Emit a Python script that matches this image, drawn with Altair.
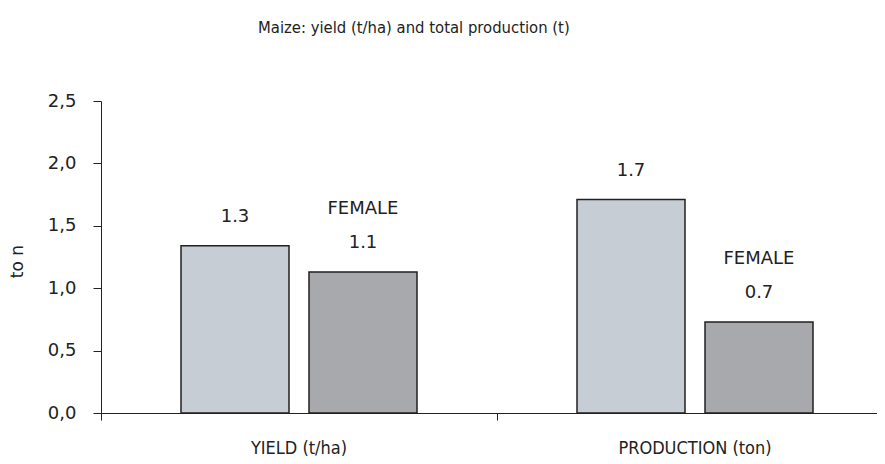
import altair as alt
import pandas as pd

categories = ["YIELD (t/ha)", "YIELD (t/ha)", "PRODUCTION (ton)", "PRODUCTION (ton)"]
genders = ["MALE", "FEMALE", "MALE", "FEMALE"]
values = [1.34, 1.13, 1.71, 0.73]
tag_labels = ["", "FEMALE", "", "FEMALE"]

cat_order = ["YIELD (t/ha)", "PRODUCTION (ton)"]
gender_order = ["MALE", "FEMALE"]
bar_colors = ["#C7CDD4", "#A8A9AC"]

df = pd.DataFrame({"cat": categories, "gender": genders, "value": values, "tag": tag_labels})

narrow = "DejaVu Sans Condensed, Liberation Sans Narrow, Arial Narrow, sans-serif"
regular = "DejaVu Sans, sans-serif"

x_enc = alt.X(
    "cat:N",
    sort=cat_order,
    scale=alt.Scale(paddingInner=0, paddingOuter=0, range=[0, 792]),
    axis=alt.Axis(
        title=None,
        labelAngle=0,
        bandPosition=0,
        tickSize=7,
        tickColor="#222222",
        domainColor="#222222",
        labelFont=narrow,
        labelFontSize=18,
        labelColor="#222222",
        labelBaseline="middle",
        labelPadding=28,
    ),
)
xoff = alt.XOffset(
    "gender:N",
    sort=gender_order,
    scale=alt.Scale(paddingInner=0.15625, paddingOuter=0.625),
)
y_enc = alt.Y(
    "value:Q",
    scale=alt.Scale(domain=[0, 2.5], nice=False),
    axis=alt.Axis(
        title="to n",
        values=[0, 0.5, 1.0, 1.5, 2.0, 2.5],
        labelExpr="replace(format(datum.value, '.1f'), '.', ',')",
        grid=False,
        tickSize=8,
        tickColor="#222222",
        domainColor="#222222",
        labelFont=regular,
        labelFontSize=18,
        labelColor="#222222",
        labelPadding=17,
        titleFont=regular,
        titleFontSize=17,
        titleFontWeight="normal",
        titleColor="#222222",
        titleAngle=270,
        titleX=-84,
        titleY=160,
        titleAlign="center",
        titleBaseline="middle",
    ),
)

bars = alt.Chart(df).mark_bar(stroke="#231F20", strokeWidth=1.5).encode(
    x=x_enc,
    xOffset=xoff,
    y=y_enc,
    color=alt.Color("gender:N", sort=gender_order,
                    scale=alt.Scale(domain=gender_order, range=bar_colors), legend=None),
)

value_text = alt.Chart(df).mark_text(
    font=regular, fontSize=18, color="#222222", dy=-29, baseline="middle"
).encode(
    x=alt.X("cat:N", sort=cat_order),
    xOffset=alt.XOffset("gender:N", sort=gender_order),
    y="value:Q",
    text=alt.Text("value:Q", format=".1f"),
)

tag_text = alt.Chart(df).mark_text(
    font=regular, fontSize=18, color="#222222", dy=-63, baseline="middle"
).encode(
    x=alt.X("cat:N", sort=cat_order),
    xOffset=alt.XOffset("gender:N", sort=gender_order),
    y="value:Q",
    text="tag:N",
)

chart = alt.layer(bars, value_text, tag_text).properties(
    width=776,
    height=312,
    autosize=alt.AutoSizeParams(type="none"),
    padding={"left": 93, "top": 93, "bottom": 43, "right": 0},
    title=alt.TitleParams(
        "Maize: yield (t/ha) and total production (t)",
        anchor="start",
        frame="group",
        dx=157,
        dy=-52,
        font=narrow,
        fontSize=16.5,
        fontWeight="normal",
        color="#222222",
    ),
).configure_view(stroke=None)

chart.save("out.html", embed_options={"renderer": "svg", "actions": False})
